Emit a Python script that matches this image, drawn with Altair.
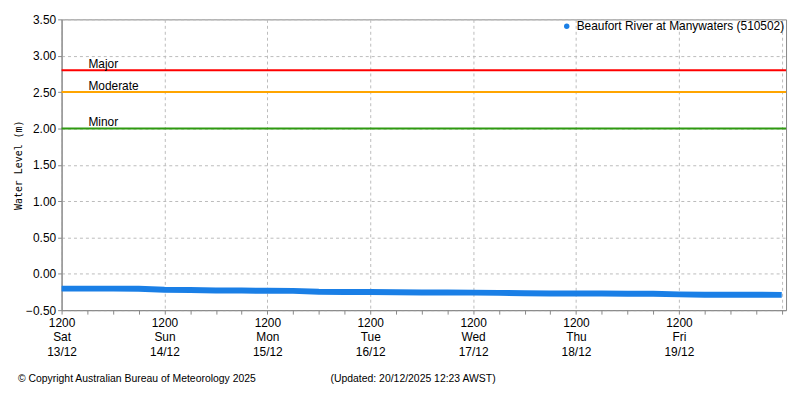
import altair as alt
import pandas as pd

# ---- data ----
series_name = "Beaufort River at Manywaters (510502)"
start = pd.Timestamp("2025-12-13 12:00")
times = [(start + pd.Timedelta(hours=6 * i)).strftime("%Y-%m-%dT%H:%M:%SZ") for i in range(29)]
levels_m = [-0.204, -0.204, -0.204, -0.205, -0.218, -0.222, -0.229, -0.231,
            -0.233, -0.235, -0.247, -0.249, -0.250, -0.254, -0.257, -0.258,
            -0.259, -0.262, -0.267, -0.271, -0.272, -0.272, -0.273, -0.274,
            -0.283, -0.287, -0.288, -0.289, -0.290]

flood_names = ["Major", "Moderate", "Minor"]
flood_values = [2.80, 2.50, 2.00]
flood_colors = ["#ff0000", "#ffa500", "#2e9a10"]

y_ticks = [-0.5, 0.0, 0.5, 1.0, 1.5, 2.0, 2.5, 3.0, 3.5]

def ms(ts):
    return int(pd.Timestamp(ts).value // 10**6)

x_tick_values = [ms(start + pd.Timedelta(hours=6 * i)) for i in range(29)]
x_domain = [ms("2025-12-13 12:00"), ms("2025-12-20 13:00")]
last_label = ms("2025-12-19 12:00")

df = pd.DataFrame({"time": times, "level": levels_m, "series": series_name})
fl = pd.DataFrame({"name": flood_names, "level": flood_values})

W, H = 730, 293
FONT = "Liberation Sans"

x_enc = alt.X(
    "time:T",
    scale=alt.Scale(type="utc", domain=x_domain, nice=False),
    axis=alt.Axis(
        values=x_tick_values,
        title=None,
        labelExpr=(
            f"(utchours(datum.value) == 12 && datum.value <= {last_label}) ? "
            "[utcFormat(datum.value, '%H%M'), utcFormat(datum.value, '%a'), utcFormat(datum.value, '%d/%m')] : ''"
        ),
        labelLineHeight=15,
        labelFontSize=12,
        labelFont=FONT,
        labelColor="#000",
        labelPadding=3,
        labelOverlap=False,
        labelFlush=False,
        labelAlign="center",
        tickSize=4,
        tickColor="#888",
        domainColor="#888",
        grid=True,
        gridColor="#bbbbbb",
        gridDash=[3, 3],
        gridOpacity={"condition": {"test": "utchours(datum.value) == 12", "value": 1}, "value": 0},
    ),
)

y_scale = alt.Scale(domain=[-0.5, 3.5], nice=False, zero=False)
y_axis = alt.Axis(
    values=y_ticks,
    format=".2f",
    title="Water Level (m)",
    titleFont="DejaVu Sans Mono",
    titleFontSize=10,
    titleFontWeight="normal",
    titlePadding=2,
    labelFontSize=12,
    labelFont=FONT,
    labelColor="#000",
    labelPadding=2,
    labelOverlap=False,
    labelFlush=False,
    tickSize=4,
    tickColor="#888",
    domainColor="#888",
    grid=True,
    gridColor="#bbbbbb",
    gridDash=[3, 3],
)
y_enc = alt.Y("level:Q", scale=y_scale, axis=y_axis)

line = alt.Chart(df).mark_line(strokeWidth=6, strokeCap="butt").encode(
    x=x_enc,
    y=y_enc,
    color=alt.Color(
        "series:N",
        scale=alt.Scale(domain=[series_name], range=["#1a7fe6"]),
        legend=alt.Legend(
            title=None,
            orient="top-right",
            offset=1,
            symbolType="circle",
            symbolSize=30,
            symbolFillColor="#1a7fe6",
            symbolStrokeWidth=0,
            labelFont=FONT,
            labelFontSize=12,
            labelColor="#000",
            labelLimit=400,
        ),
    ),
)

rules = alt.Chart(fl).mark_rule(strokeWidth=2).encode(
    y=y_enc,
    color=alt.Color("name:N", scale=alt.Scale(domain=flood_names, range=flood_colors), legend=None),
)

rule_labels = alt.Chart(fl).mark_text(
    align="left", baseline="alphabetic", dy=-2, fontSize=12, font=FONT, color="#000"
).encode(
    x=alt.value(27),
    y=y_enc,
    text="name:N",
)

footer = pd.DataFrame({
    "txt": ["\u00a9 Copyright Australian Bureau of Meteorology 2025",
            "(Updated: 20/12/2025 12:23 AWST)"],
    "px": [-44, 271],
})
footer_layer = alt.Chart(footer).mark_text(
    align="left", baseline="middle", fontSize=10.5, font=FONT, color="#000"
).encode(
    x=alt.X("px:Q", scale=None),
    y=alt.value(H + 69),
    text="txt:N",
)

chart = (
    alt.layer(line, rules, rule_labels, footer_layer)
    .resolve_scale(color="independent")
    .properties(
        width=W,
        height=H,
        autosize=alt.AutoSizeParams(type="none"),
        padding={"left": 54, "top": 10, "right": 6, "bottom": 80},
        background="white",
    )
    .configure_view(stroke="#888", strokeWidth=1)
)

chart.save("out.html", embed_options={"renderer": "svg", "actions": False})
